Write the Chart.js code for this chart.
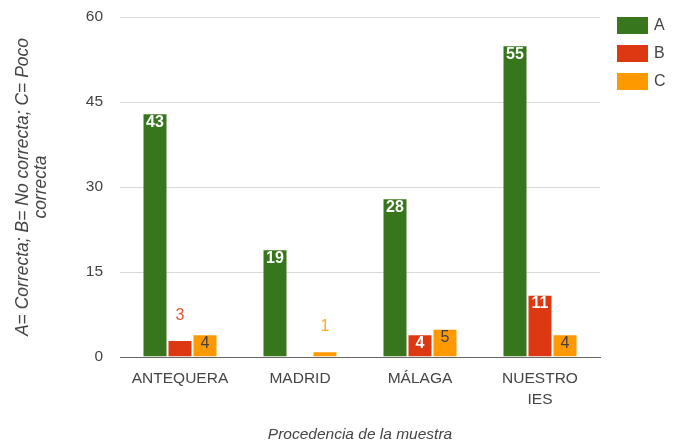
<!DOCTYPE html>
<html>
<head>
<meta charset="utf-8">
<script src="https://cdn.jsdelivr.net/npm/chart.js@4"></script>
<style>
  html, body { margin: 0; padding: 0; background: #fff; }
  #wrap { width: 676px; height: 444px; }
</style>
</head>
<body>
<div id="wrap"><canvas id="chart" width="676" height="444"></canvas></div>
<script>
const categories = ['ANTEQUERA', 'MADRID', 'MÁLAGA', ['NUESTRO', 'IES']];
const seriesNames = ['A', 'B', 'C'];
const seriesA = [43, 19, 28, 55];
const seriesB = [3, 0, 4, 11];
const seriesC = [4, 1, 5, 4];
const yTicks = [0, 15, 30, 45, 60];
const colors = ['#38761d', '#dc3912', '#ff9900'];
const insideText = ['#ffffff', '#ffffff', '#404040'];
const insideBold = [true, true, false];
const FONT = '"Liberation Sans", Arial, sans-serif';

// value labels: inside the bar top when there is room, else above it
const valueLabels = {
  id: 'valueLabels',
  afterDatasetsDraw(chart) {
    const ctx = chart.ctx;
    chart.data.datasets.forEach((ds, di) => {
      const meta = chart.getDatasetMeta(di);
      meta.data.forEach((bar, i) => {
        const v = ds.data[i];
        if (!v) return;
        const h = bar.base - bar.y;
        ctx.save();
        ctx.textAlign = 'center';
        if (h >= 20) {
          ctx.font = (insideBold[di] ? 'bold ' : '') + '16px ' + FONT;
          ctx.fillStyle = insideText[di];
          ctx.textBaseline = 'top';
          ctx.fillText(String(v), bar.x, bar.y + 1);
        } else {
          ctx.font = '16px ' + FONT;
          ctx.fillStyle = colors[di];
          ctx.globalAlpha = 0.85;
          ctx.textBaseline = 'alphabetic';
          ctx.fillText(String(v), bar.x, bar.y - 20);
        }
        ctx.restore();
      });
    });
  }
};

// legend drawn at the right
const sideLegend = {
  id: 'sideLegend',
  afterDraw(chart) {
    const ctx = chart.ctx;
    ctx.save();
    ctx.font = '16px ' + FONT;
    ctx.textBaseline = 'middle';
    ctx.textAlign = 'left';
    seriesNames.forEach((name, i) => {
      const y = 17 + i * 28;
      ctx.fillStyle = colors[i];
      ctx.fillRect(617, y, 31, 17);
      ctx.fillStyle = '#444';
      ctx.fillText(name, 654, y + 9);
    });
    ctx.restore();
  }
};

new Chart(document.getElementById('chart'), {
  type: 'bar',
  data: {
    labels: categories,
    datasets: [seriesA, seriesB, seriesC].map((d, i) => ({
      label: seriesNames[i],
      data: d,
      backgroundColor: colors[i],
      borderColor: 'rgba(255,255,255,0.35)',
      borderWidth: 1,
      categoryPercentage: 0.625,
      barPercentage: 1
    }))
  },
  options: {
    responsive: false,
    animation: false,
    layout: { padding: { top: 17, right: 76, left: 0, bottom: 0 } },
    plugins: { legend: { display: false }, tooltip: { enabled: false } },
    scales: {
      x: {
        grid: { display: false, drawTicks: false },
        border: { color: '#666', width: 1 },
        ticks: { color: '#444', font: { family: FONT, size: 15.5, lineHeight: 1.3 }, padding: 12, maxRotation: 0, autoSkip: false },
        title: { display: true, text: 'Procedencia de la muestra', color: '#444',
          font: { family: FONT, size: 15.5, style: 'italic', lineHeight: 1.15 }, padding: { top: 0, bottom: 0 } },
        afterFit(scale) { scale.height = 87; }
      },
      y: {
        min: 0,
        max: 60,
        grid: { color: '#d9d9d9', drawTicks: false },
        border: { display: false },
        afterBuildTicks(scale) { scale.ticks = yTicks.map(v => ({ value: v })); },
        ticks: { color: '#444', font: { family: FONT, size: 15.5 }, padding: 17 },
        title: { display: true, text: ['A= Correcta; B= No correcta; C= Poco', 'correcta'], color: '#444',
          font: { family: FONT, size: 17.5, style: 'italic', lineHeight: 1.05 }, padding: { top: 14, bottom: 0 } },
        afterFit(scale) {
          scale.width = 120;
          scale.paddingTop = 0;
          scale.paddingBottom = 0;
        }
      }
    }
  },
  plugins: [valueLabels, sideLegend]
});
</script>
</body>
</html>
